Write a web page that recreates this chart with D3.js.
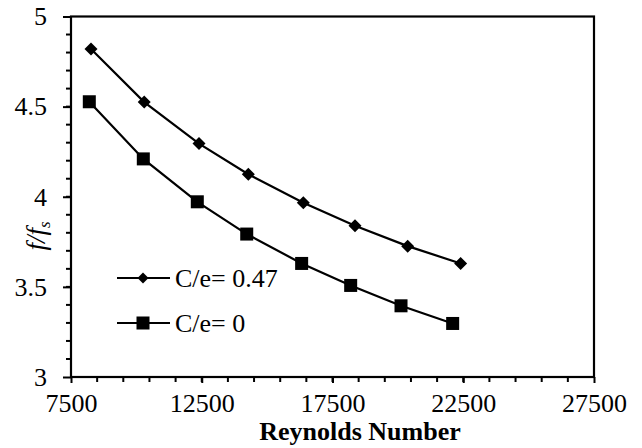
<!DOCTYPE html>
<html><head><meta charset="utf-8">
<script src="https://cdn.jsdelivr.net/npm/d3@7"></script>
<style>body{margin:0;background:#fff} svg text{font-family:"Liberation Serif","Times New Roman",serif}</style>
</head><body>
<svg id="c" width="642" height="448"></svg>
<script>
const reynolds1 = [8265, 10300, 12395, 14280, 16385, 18360, 20375, 22400];
const ratio1 = [4.82, 4.525, 4.295, 4.125, 3.967, 3.839, 3.726, 3.63];
const reynolds2 = [8200, 10265, 12330, 14220, 16320, 18195, 20120, 22095];
const ratio2 = [4.527, 4.21, 3.972, 3.793, 3.63, 3.508, 3.395, 3.297];
const seriesNames = ["C/e= 0.47", "C/e= 0"];
const xTicks = [7500, 12500, 17500, 22500, 27500];
const yTicks = [3, 3.5, 4, 4.5, 5];

const svg = d3.select("#c");
const L = 71, R = 594, T = 16.5, B = 377;
const x = d3.scaleLinear().domain([7500, 27500]).range([L, R]);
const y = d3.scaleLinear().domain([3, 5]).range([B, T]);
const font = "Liberation Serif";

// frame
svg.append("rect").attr("x", L).attr("y", T).attr("width", R - L).attr("height", B - T)
  .attr("fill", "none").attr("stroke", "#000").attr("stroke-width", 2.2);

// x axis minor ticks
const xMinor = d3.range(8500, 27500, 1000);
svg.append("g").selectAll("line").data(xMinor).join("line")
  .attr("x1", d => x(d)).attr("x2", d => x(d)).attr("y1", B).attr("y2", B + 5)
  .attr("stroke", "#000").attr("stroke-width", 2);
const xAxis = d3.axisBottom(x).tickValues(xTicks).tickSize(6).tickPadding(11).tickFormat(d3.format("d"));
const gx = svg.append("g").attr("transform", `translate(0,${B})`).call(xAxis);
gx.select(".domain").remove();
gx.selectAll(".tick line").attr("stroke-width", 2);
gx.selectAll("text").attr("font-family", font).attr("font-size", 26).attr("fill", "#000");

// y axis minor ticks
const yMinor = d3.range(3.1, 5, 0.1);
svg.append("g").selectAll("line").data(yMinor).join("line")
  .attr("x1", L - 5).attr("x2", L).attr("y1", d => y(d)).attr("y2", d => y(d))
  .attr("stroke", "#000").attr("stroke-width", 2);
const yAxis = d3.axisLeft(y).tickValues(yTicks).tickSize(8).tickPadding(16).tickFormat(d => String(d));
const gy = svg.append("g").attr("transform", `translate(${L},0)`).call(yAxis);
gy.select(".domain").remove();
gy.selectAll(".tick line").attr("stroke-width", 2);
gy.selectAll("text").attr("font-family", font).attr("font-size", 26).attr("fill", "#000");

// axis titles
svg.append("text").attr("x", 360).attr("y", 440).attr("text-anchor", "middle")
  .attr("font-family", font).attr("font-size", 26).attr("font-weight", "bold").text("Reynolds Number");
const yl = svg.append("text").attr("transform", "translate(45,236) rotate(-90)")
  .attr("text-anchor", "middle").attr("font-family", font).attr("font-size", 27).attr("font-style", "italic");
yl.append("tspan").text("f/f");
yl.append("tspan").attr("font-size", 17).attr("dy", 5).text("s");

// series
const line = d3.line().x(d => x(d[0])).y(d => y(d[1]));
const d1 = reynolds1.map((r, i) => [r, ratio1[i]]);
const d2 = reynolds2.map((r, i) => [r, ratio2[i]]);
svg.append("path").datum(d1).attr("d", line).attr("fill", "none").attr("stroke", "#000").attr("stroke-width", 2.2);
svg.append("path").datum(d2).attr("d", line).attr("fill", "none").attr("stroke", "#000").attr("stroke-width", 2.2);
const diamond = s => `M0,${-s}L${s},0L0,${s}L${-s},0Z`;
svg.append("g").selectAll("path").data(d1).join("path")
  .attr("transform", d => `translate(${x(d[0])},${y(d[1])})`).attr("d", diamond(6.5)).attr("fill", "#000");
svg.append("g").selectAll("rect").data(d2).join("rect")
  .attr("x", d => x(d[0]) - 6.5).attr("y", d => y(d[1]) - 6.5).attr("width", 13).attr("height", 13).attr("fill", "#000");

// legend
const legY = [278, 323];
legY.forEach((ly, i) => {
  svg.append("line").attr("x1", 117).attr("x2", 170).attr("y1", ly).attr("y2", ly).attr("stroke", "#000").attr("stroke-width", 2.2);
  if (i === 0) svg.append("path").attr("transform", `translate(143,${ly})`).attr("d", diamond(5.5)).attr("fill", "#000");
  else svg.append("rect").attr("x", 143 - 6.5).attr("y", ly - 6.5).attr("width", 13).attr("height", 13).attr("fill", "#000");
  svg.append("text").attr("x", 175).attr("y", ly + 9).attr("font-family", font).attr("font-size", 26).text(seriesNames[i]);
});
</script>
</body></html>
